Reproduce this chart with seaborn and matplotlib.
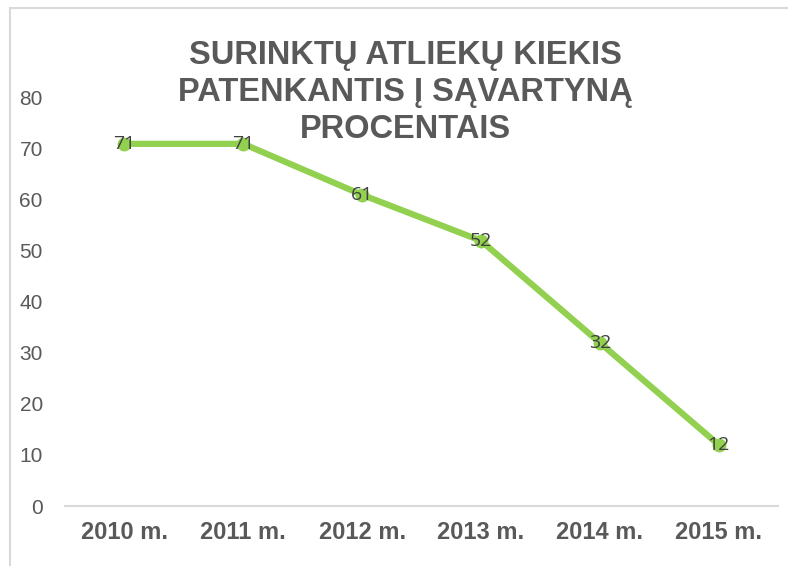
import matplotlib
matplotlib.use('Agg')
import matplotlib.pyplot as plt
import seaborn as sns
import pandas as pd
from matplotlib.patches import Rectangle

years = ['2010 m.', '2011 m.', '2012 m.', '2013 m.', '2014 m.', '2015 m.']
values = [71, 71, 61, 52, 32, 12]
yticks = [0, 10, 20, 30, 40, 50, 60, 70, 80]
title_lines = ['SURINKTŲ ATLIEKŲ KIEKIS', 'PATENKANTIS Į SĄVARTYNĄ', 'PROCENTAIS']

df = pd.DataFrame({'year': years, 'value': values})

sns.set_style('white')
plt.rcParams['font.family'] = ['Liberation Sans', 'DejaVu Sans']

fig = plt.figure(figsize=(7.88, 5.66), dpi=100)
ax = fig.add_axes([0.0825, 0.106, 0.905, 0.721])

sns.lineplot(data=df, x='year', y='value', ax=ax, color='#92D050', linewidth=4.5,
             marker='o', markersize=10, markeredgewidth=0, sort=False)

# data labels centred on the points
for i, v in enumerate(values):
    ax.text(i, v, str(v), ha='center', va='center', fontsize=14, color='#404040',
            family=['Open Sans', 'DejaVu Sans'])

ax.set_xlim(-0.5, len(years) - 0.5)
ax.set_ylim(0, 80)
ax.set_yticks(yticks)
ax.set_yticklabels([str(t) for t in yticks], fontsize=15, color='#595959')
ax.set_xticks(range(len(years)))
ax.set_xticklabels(years, fontsize=17, fontweight='bold', color='#595959')
ax.tick_params(axis='y', length=0, pad=16)
ax.tick_params(axis='x', length=0, pad=11)
ax.set_xlabel('')
ax.set_ylabel('')
for side in ['top', 'right', 'left']:
    ax.spines[side].set_visible(False)
ax.spines['bottom'].set_color('#d9d9d9')
ax.spines['bottom'].set_linewidth(1.5)

# title, one text per line so the lines sit where the reference has them
for k, line in enumerate(title_lines):
    fig.text(0.515, 1 - (64 + 37 * k) / 566, line, ha='center', va='baseline',
             fontsize=23.5, fontweight='bold', color='#595959')

# chart frame (cut off at right and bottom like the reference)
fig.patches.append(Rectangle((10 / 788, -0.1), 1.2, 1 - 8 / 566 + 0.1,
                             transform=fig.transFigure, fill=False,
                             edgecolor='#d9d9d9', linewidth=1.5))

fig.savefig('out.png', dpi=100, facecolor='white')
